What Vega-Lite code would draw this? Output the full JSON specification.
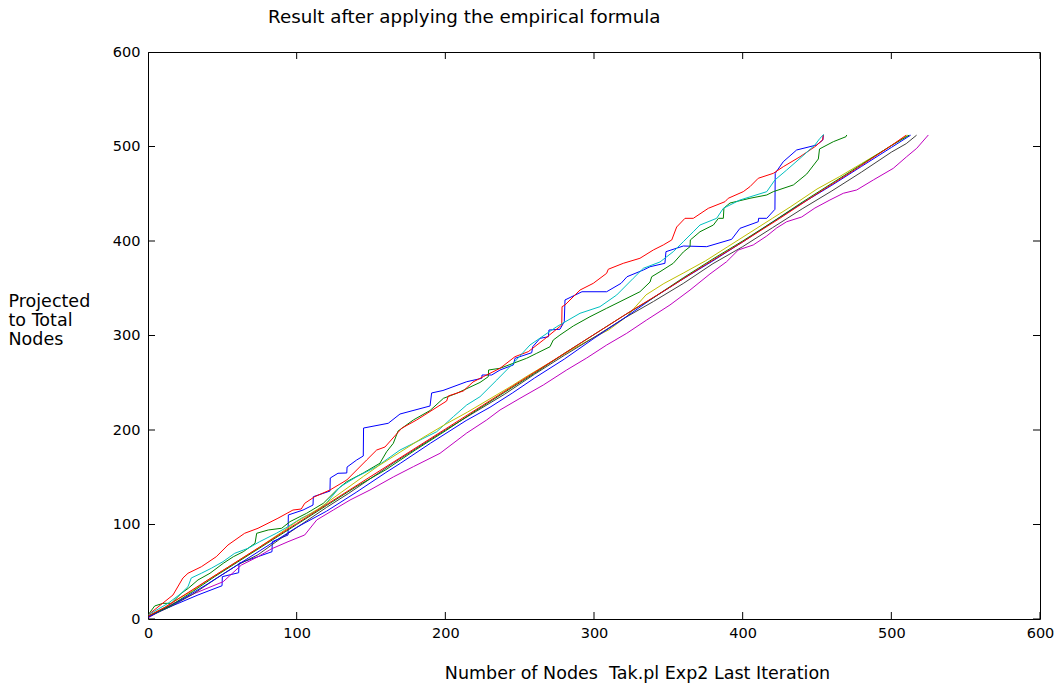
{
  "$schema": "https://vega.github.io/schema/vega-lite/v6.json",
  "width": 892,
  "height": 567,
  "autosize": {"type": "none"},
  "padding": {"left": 148, "top": 52, "right": 23, "bottom": 67},
  "background": "white",
  "title": {
    "text": "Result after applying the empirical formula",
    "anchor": "start",
    "frame": "group",
    "dx": 120,
    "offset": -1,
    "baseline": "bottom",
    "font": "DejaVu Sans",
    "fontSize": 18.3,
    "fontWeight": "normal",
    "color": "black"
  },
  "config": {
    "font": "DejaVu Sans",
    "view": {"stroke": "black", "strokeWidth": 1},
    "axis": {
      "grid": false,
      "domain": false,
      "ticks": false,
      "tickSize": 0,
      "labelFlush": false,
      "labelFont": "DejaVu Sans",
      "labelFontSize": 14.5,
      "labelColor": "black",
      "titleFont": "DejaVu Sans",
      "titleFontSize": 17.5,
      "titleFontWeight": "normal",
      "titleColor": "black"
    }
  },
  "datasets": {
    "tickpos": [{"v": 0}, {"v": 100}, {"v": 200}, {"v": 300}, {"v": 400}, {"v": 500}, {"v": 600}],
    "runs": [
      {"s": "s1", "x": 0, "y": 3}, {"s": "s1", "x": 33.6, "y": 25.4}, {"s": "s1", "x": 49.8, "y": 35.2}, {"s": "s1", "x": 50, "y": 44.8},
      {"s": "s1", "x": 61, "y": 49}, {"s": "s1", "x": 61.2, "y": 58.9}, {"s": "s1", "x": 83.4, "y": 71.2}, {"s": "s1", "x": 83.6, "y": 81.8},
      {"s": "s1", "x": 94.2, "y": 88.9}, {"s": "s1", "x": 94.4, "y": 110.1}, {"s": "s1", "x": 104.3, "y": 115.3}, {"s": "s1", "x": 111, "y": 120.6},
      {"s": "s1", "x": 111.2, "y": 129.4}, {"s": "s1", "x": 122.4, "y": 135.4}, {"s": "s1", "x": 122.6, "y": 149.2}, {"s": "s1", "x": 127.8, "y": 154.2},
      {"s": "s1", "x": 133.7, "y": 154.5}, {"s": "s1", "x": 133.9, "y": 160.8}, {"s": "s1", "x": 140.4, "y": 168.3}, {"s": "s1", "x": 144.8, "y": 172.5},
      {"s": "s1", "x": 145, "y": 202.1}, {"s": "s1", "x": 161.6, "y": 207.1}, {"s": "s1", "x": 169.5, "y": 216.9}, {"s": "s1", "x": 189.7, "y": 225.4},
      {"s": "s1", "x": 190.8, "y": 239.2}, {"s": "s1", "x": 198.4, "y": 241.8}, {"s": "s1", "x": 214.4, "y": 251.1}, {"s": "s1", "x": 224.5, "y": 254.7},
      {"s": "s1", "x": 224.7, "y": 258.2}, {"s": "s1", "x": 231.2, "y": 258.2}, {"s": "s1", "x": 236.8, "y": 263.5}, {"s": "s1", "x": 245.7, "y": 268.8},
      {"s": "s1", "x": 246.9, "y": 275.9}, {"s": "s1", "x": 258.1, "y": 281.8}, {"s": "s1", "x": 258.8, "y": 288.1}, {"s": "s1", "x": 263.7, "y": 297},
      {"s": "s1", "x": 269.3, "y": 298.7}, {"s": "s1", "x": 269.7, "y": 305.8}, {"s": "s1", "x": 277.1, "y": 306.6}, {"s": "s1", "x": 280, "y": 314.6},
      {"s": "s1", "x": 280.5, "y": 337.6}, {"s": "s1", "x": 291.9, "y": 346.3}, {"s": "s1", "x": 308.5, "y": 346.3}, {"s": "s1", "x": 318.2, "y": 355.2},
      {"s": "s1", "x": 322.2, "y": 362.2}, {"s": "s1", "x": 333.2, "y": 369.3}, {"s": "s1", "x": 337.7, "y": 372.8}, {"s": "s1", "x": 347.7, "y": 376.4},
      {"s": "s1", "x": 348.4, "y": 388.7}, {"s": "s1", "x": 360.1, "y": 394.7}, {"s": "s1", "x": 375.8, "y": 394}, {"s": "s1", "x": 392.6, "y": 401.8},
      {"s": "s1", "x": 398.2, "y": 413.4}, {"s": "s1", "x": 410.5, "y": 420.4}, {"s": "s1", "x": 410.7, "y": 424}, {"s": "s1", "x": 416.2, "y": 424},
      {"s": "s1", "x": 421.7, "y": 433.5}, {"s": "s1", "x": 421.9, "y": 471.6}, {"s": "s1", "x": 427.3, "y": 483.9}, {"s": "s1", "x": 436.3, "y": 496.3},
      {"s": "s1", "x": 449.8, "y": 501.6}, {"s": "s1", "x": 454, "y": 507}, {"s": "s1", "x": 454.2, "y": 512.2},

      {"s": "s2", "x": 0, "y": 4.2}, {"s": "s2", "x": 4.5, "y": 13.8}, {"s": "s2", "x": 10.1, "y": 16.6}, {"s": "s2", "x": 15.7, "y": 16.6},
      {"s": "s2", "x": 22.4, "y": 27.2}, {"s": "s2", "x": 27.1, "y": 32.5}, {"s": "s2", "x": 33.6, "y": 41.3}, {"s": "s2", "x": 41.7, "y": 48.4},
      {"s": "s2", "x": 50.6, "y": 58.9}, {"s": "s2", "x": 57.4, "y": 65.9}, {"s": "s2", "x": 64.1, "y": 71.2}, {"s": "s2", "x": 72, "y": 80.1},
      {"s": "s2", "x": 73.1, "y": 90.7}, {"s": "s2", "x": 80.9, "y": 94.2}, {"s": "s2", "x": 89.9, "y": 96}, {"s": "s2", "x": 95.5, "y": 103},
      {"s": "s2", "x": 106.7, "y": 111.9}, {"s": "s2", "x": 117.9, "y": 122.4}, {"s": "s2", "x": 126.9, "y": 136.5}, {"s": "s2", "x": 133.7, "y": 145.3},
      {"s": "s2", "x": 144.8, "y": 154.5}, {"s": "s2", "x": 156, "y": 164.8}, {"s": "s2", "x": 160.5, "y": 177}, {"s": "s2", "x": 165, "y": 185.9},
      {"s": "s2", "x": 168.2, "y": 198.9}, {"s": "s2", "x": 178.5, "y": 210.6}, {"s": "s2", "x": 189.7, "y": 220.6}, {"s": "s2", "x": 198.7, "y": 233.5},
      {"s": "s2", "x": 207.6, "y": 238.8}, {"s": "s2", "x": 223.3, "y": 250.3}, {"s": "s2", "x": 228.9, "y": 256.4}, {"s": "s2", "x": 229.1, "y": 263.5},
      {"s": "s2", "x": 236.8, "y": 265.3}, {"s": "s2", "x": 254.7, "y": 275.9}, {"s": "s2", "x": 261.5, "y": 281.2}, {"s": "s2", "x": 270.4, "y": 288.1},
      {"s": "s2", "x": 272.6, "y": 295.2}, {"s": "s2", "x": 277.1, "y": 300.5}, {"s": "s2", "x": 286.1, "y": 310.1}, {"s": "s2", "x": 297.3, "y": 319.9},
      {"s": "s2", "x": 308.5, "y": 328.8}, {"s": "s2", "x": 317.5, "y": 335.8}, {"s": "s2", "x": 330.9, "y": 346.3}, {"s": "s2", "x": 337.7, "y": 356.6},
      {"s": "s2", "x": 338.8, "y": 362.2}, {"s": "s2", "x": 344.4, "y": 367.5}, {"s": "s2", "x": 353.3, "y": 376.4}, {"s": "s2", "x": 360.1, "y": 388.4},
      {"s": "s2", "x": 364.6, "y": 394}, {"s": "s2", "x": 364.8, "y": 401.1}, {"s": "s2", "x": 371.3, "y": 409.8}, {"s": "s2", "x": 380.3, "y": 416.9},
      {"s": "s2", "x": 383.7, "y": 424}, {"s": "s2", "x": 387, "y": 424}, {"s": "s2", "x": 387.4, "y": 434.9}, {"s": "s2", "x": 391.5, "y": 440.2},
      {"s": "s2", "x": 404.9, "y": 445.2}, {"s": "s2", "x": 416.2, "y": 448.7}, {"s": "s2", "x": 420.6, "y": 452.2}, {"s": "s2", "x": 434.1, "y": 459.3},
      {"s": "s2", "x": 443.1, "y": 470.9}, {"s": "s2", "x": 450.9, "y": 486.8}, {"s": "s2", "x": 451.7, "y": 497.4}, {"s": "s2", "x": 461, "y": 505.1},
      {"s": "s2", "x": 469.5, "y": 510.4}, {"s": "s2", "x": 470, "y": 512.2},

      {"s": "s3", "x": 0, "y": 4.2}, {"s": "s3", "x": 16.8, "y": 25.4}, {"s": "s3", "x": 23.5, "y": 43.4}, {"s": "s3", "x": 26.9, "y": 48.4},
      {"s": "s3", "x": 35.9, "y": 55.3}, {"s": "s3", "x": 45.9, "y": 65.9}, {"s": "s3", "x": 53.8, "y": 78.3}, {"s": "s3", "x": 65, "y": 90.7},
      {"s": "s3", "x": 74, "y": 96}, {"s": "s3", "x": 87.4, "y": 106.6}, {"s": "s3", "x": 97.5, "y": 115.3}, {"s": "s3", "x": 103.1, "y": 116.4},
      {"s": "s3", "x": 105.4, "y": 122.4}, {"s": "s3", "x": 112.1, "y": 129.4}, {"s": "s3", "x": 122.4, "y": 136.5}, {"s": "s3", "x": 133.7, "y": 147.1},
      {"s": "s3", "x": 140.4, "y": 157.7}, {"s": "s3", "x": 147.1, "y": 168.3}, {"s": "s3", "x": 153.8, "y": 178.8}, {"s": "s3", "x": 159.4, "y": 182},
      {"s": "s3", "x": 170.6, "y": 201.8}, {"s": "s3", "x": 180.7, "y": 210.6}, {"s": "s3", "x": 200.9, "y": 230.7}, {"s": "s3", "x": 202, "y": 236},
      {"s": "s3", "x": 212.1, "y": 241.3}, {"s": "s3", "x": 218.6, "y": 250.8}, {"s": "s3", "x": 225.5, "y": 256.4}, {"s": "s3", "x": 236.8, "y": 265.3},
      {"s": "s3", "x": 246.9, "y": 277.6}, {"s": "s3", "x": 255.8, "y": 282.9}, {"s": "s3", "x": 265.9, "y": 295.2}, {"s": "s3", "x": 278.3, "y": 311.1},
      {"s": "s3", "x": 278.5, "y": 330.5}, {"s": "s3", "x": 280.5, "y": 332.3}, {"s": "s3", "x": 290.6, "y": 348.1}, {"s": "s3", "x": 299.5, "y": 355.2},
      {"s": "s3", "x": 308.5, "y": 365.8}, {"s": "s3", "x": 309.6, "y": 370.1}, {"s": "s3", "x": 319.7, "y": 376.4}, {"s": "s3", "x": 330.9, "y": 381.7},
      {"s": "s3", "x": 339.9, "y": 390.5}, {"s": "s3", "x": 346.6, "y": 395.8}, {"s": "s3", "x": 352.3, "y": 401.1}, {"s": "s3", "x": 355.6, "y": 414.8},
      {"s": "s3", "x": 361.2, "y": 424}, {"s": "s3", "x": 366.8, "y": 424}, {"s": "s3", "x": 376.9, "y": 434.6}, {"s": "s3", "x": 388.1, "y": 441.6},
      {"s": "s3", "x": 390.3, "y": 445.2}, {"s": "s3", "x": 400.4, "y": 452.2}, {"s": "s3", "x": 404.9, "y": 457.5}, {"s": "s3", "x": 410.5, "y": 466.4},
      {"s": "s3", "x": 420.6, "y": 471.6}, {"s": "s3", "x": 427.3, "y": 478.6}, {"s": "s3", "x": 438.6, "y": 489.2}, {"s": "s3", "x": 448.6, "y": 499.8},
      {"s": "s3", "x": 453.8, "y": 506.9}, {"s": "s3", "x": 454.2, "y": 512.2},

      {"s": "s4", "x": 0, "y": 4.2}, {"s": "s4", "x": 13.5, "y": 16.6}, {"s": "s4", "x": 22.4, "y": 27.2}, {"s": "s4", "x": 26.9, "y": 34.2},
      {"s": "s4", "x": 29.1, "y": 43.4}, {"s": "s4", "x": 35.9, "y": 48.4}, {"s": "s4", "x": 42.6, "y": 53.7}, {"s": "s4", "x": 50.4, "y": 60.6},
      {"s": "s4", "x": 58.3, "y": 69.5}, {"s": "s4", "x": 67.3, "y": 74.8}, {"s": "s4", "x": 75.1, "y": 81.8}, {"s": "s4", "x": 86.3, "y": 90.7},
      {"s": "s4", "x": 94.2, "y": 97.7}, {"s": "s4", "x": 103.1, "y": 106.6}, {"s": "s4", "x": 112.1, "y": 113.5}, {"s": "s4", "x": 118.9, "y": 120.6},
      {"s": "s4", "x": 129.1, "y": 139.7}, {"s": "s4", "x": 140.4, "y": 150.6}, {"s": "s4", "x": 153.8, "y": 161.2}, {"s": "s4", "x": 169.5, "y": 178.8},
      {"s": "s4", "x": 183, "y": 189.4}, {"s": "s4", "x": 194.2, "y": 198.2}, {"s": "s4", "x": 205.4, "y": 214.1}, {"s": "s4", "x": 214.4, "y": 226.5},
      {"s": "s4", "x": 223.3, "y": 235.2}, {"s": "s4", "x": 234.6, "y": 252.9}, {"s": "s4", "x": 245.7, "y": 270.6}, {"s": "s4", "x": 256.9, "y": 289.9},
      {"s": "s4", "x": 274.9, "y": 309.3}, {"s": "s4", "x": 290.6, "y": 323.5}, {"s": "s4", "x": 304, "y": 330.5}, {"s": "s4", "x": 315.3, "y": 342.9},
      {"s": "s4", "x": 326.4, "y": 360.5}, {"s": "s4", "x": 333.2, "y": 371.1}, {"s": "s4", "x": 344.4, "y": 377.8}, {"s": "s4", "x": 353.3, "y": 388.7},
      {"s": "s4", "x": 360.1, "y": 399.3}, {"s": "s4", "x": 366.8, "y": 409.8}, {"s": "s4", "x": 371.3, "y": 416.9}, {"s": "s4", "x": 382.5, "y": 424},
      {"s": "s4", "x": 387, "y": 434.6}, {"s": "s4", "x": 398.2, "y": 443.4}, {"s": "s4", "x": 416.2, "y": 452.2}, {"s": "s4", "x": 421.7, "y": 464.6},
      {"s": "s4", "x": 429.6, "y": 475.1}, {"s": "s4", "x": 438.6, "y": 487.5}, {"s": "s4", "x": 448.6, "y": 501.6}, {"s": "s4", "x": 452, "y": 508.7},
      {"s": "s4", "x": 454.7, "y": 512.9},

      {"s": "s5", "x": 0, "y": 1}, {"s": "s5", "x": 14.8, "y": 14.8}, {"s": "s5", "x": 31.6, "y": 27.2}, {"s": "s5", "x": 50.6, "y": 39.5},
      {"s": "s5", "x": 62.8, "y": 57.1}, {"s": "s5", "x": 74, "y": 65.9}, {"s": "s5", "x": 82.9, "y": 74.1}, {"s": "s5", "x": 94.2, "y": 81.8},
      {"s": "s5", "x": 105.4, "y": 88.9}, {"s": "s5", "x": 113.5, "y": 104.8}, {"s": "s5", "x": 124.6, "y": 115.3}, {"s": "s5", "x": 135.9, "y": 125.9},
      {"s": "s5", "x": 149.3, "y": 136.5}, {"s": "s5", "x": 165, "y": 150.3}, {"s": "s5", "x": 178.5, "y": 161.2}, {"s": "s5", "x": 196.4, "y": 175.3},
      {"s": "s5", "x": 214.4, "y": 196.8}, {"s": "s5", "x": 227.8, "y": 210.6}, {"s": "s5", "x": 236.8, "y": 221.2}, {"s": "s5", "x": 250.2, "y": 233.5},
      {"s": "s5", "x": 265.9, "y": 247.6}, {"s": "s5", "x": 281.6, "y": 263.5}, {"s": "s5", "x": 295.1, "y": 276.2}, {"s": "s5", "x": 308.5, "y": 289.9},
      {"s": "s5", "x": 322, "y": 302.3}, {"s": "s5", "x": 335.4, "y": 316.4}, {"s": "s5", "x": 351.1, "y": 332.3}, {"s": "s5", "x": 364.6, "y": 348.1},
      {"s": "s5", "x": 378, "y": 365.1}, {"s": "s5", "x": 389.2, "y": 378.1}, {"s": "s5", "x": 397.1, "y": 390.5}, {"s": "s5", "x": 407.1, "y": 395.8},
      {"s": "s5", "x": 416.2, "y": 405.3}, {"s": "s5", "x": 422.9, "y": 413.8}, {"s": "s5", "x": 429.6, "y": 420.4}, {"s": "s5", "x": 439.7, "y": 425.4},
      {"s": "s5", "x": 448.6, "y": 434.9}, {"s": "s5", "x": 458.7, "y": 443.4}, {"s": "s5", "x": 467.7, "y": 450.5}, {"s": "s5", "x": 476.7, "y": 454},
      {"s": "s5", "x": 487.9, "y": 464.6}, {"s": "s5", "x": 501.3, "y": 476.9}, {"s": "s5", "x": 510.3, "y": 489.2}, {"s": "s5", "x": 517.1, "y": 498.1},
      {"s": "s5", "x": 524.9, "y": 512.2},

      {"s": "s6", "x": 0, "y": 3}, {"s": "s6", "x": 10, "y": 11}, {"s": "s6", "x": 20, "y": 21}, {"s": "s6", "x": 30, "y": 30},
      {"s": "s6", "x": 40, "y": 41}, {"s": "s6", "x": 50, "y": 51}, {"s": "s6", "x": 60, "y": 61}, {"s": "s6", "x": 75, "y": 76},
      {"s": "s6", "x": 90, "y": 92}, {"s": "s6", "x": 100, "y": 103}, {"s": "s6", "x": 115, "y": 117}, {"s": "s6", "x": 130, "y": 134},
      {"s": "s6", "x": 145, "y": 151}, {"s": "s6", "x": 155, "y": 162}, {"s": "s6", "x": 170, "y": 177}, {"s": "s6", "x": 185, "y": 192},
      {"s": "s6", "x": 200, "y": 206}, {"s": "s6", "x": 215, "y": 219}, {"s": "s6", "x": 230, "y": 233}, {"s": "s6", "x": 245, "y": 247},
      {"s": "s6", "x": 255, "y": 257}, {"s": "s6", "x": 270, "y": 271}, {"s": "s6", "x": 285, "y": 285}, {"s": "s6", "x": 300, "y": 298},
      {"s": "s6", "x": 310, "y": 306}, {"s": "s6", "x": 322, "y": 320}, {"s": "s6", "x": 335, "y": 343}, {"s": "s6", "x": 347, "y": 355},
      {"s": "s6", "x": 360, "y": 366}, {"s": "s6", "x": 375, "y": 379}, {"s": "s6", "x": 390, "y": 394}, {"s": "s6", "x": 405, "y": 409},
      {"s": "s6", "x": 420, "y": 424}, {"s": "s6", "x": 432, "y": 436}, {"s": "s6", "x": 450, "y": 455}, {"s": "s6", "x": 465, "y": 468},
      {"s": "s6", "x": 480, "y": 482}, {"s": "s6", "x": 495, "y": 496}, {"s": "s6", "x": 511, "y": 512},

      {"s": "s7", "x": 0, "y": 2}, {"s": "s7", "x": 15, "y": 13}, {"s": "s7", "x": 30, "y": 26}, {"s": "s7", "x": 47, "y": 44},
      {"s": "s7", "x": 60, "y": 57}, {"s": "s7", "x": 74, "y": 68}, {"s": "s7", "x": 90, "y": 86}, {"s": "s7", "x": 105, "y": 102},
      {"s": "s7", "x": 120, "y": 118}, {"s": "s7", "x": 135, "y": 133}, {"s": "s7", "x": 150, "y": 149}, {"s": "s7", "x": 165, "y": 165},
      {"s": "s7", "x": 180, "y": 180}, {"s": "s7", "x": 200, "y": 200}, {"s": "s7", "x": 220, "y": 219}, {"s": "s7", "x": 240, "y": 238},
      {"s": "s7", "x": 260, "y": 259}, {"s": "s7", "x": 280, "y": 279}, {"s": "s7", "x": 300, "y": 298}, {"s": "s7", "x": 320, "y": 318},
      {"s": "s7", "x": 340, "y": 336}, {"s": "s7", "x": 360, "y": 355}, {"s": "s7", "x": 380, "y": 376}, {"s": "s7", "x": 400, "y": 394},
      {"s": "s7", "x": 420, "y": 414}, {"s": "s7", "x": 440, "y": 434}, {"s": "s7", "x": 460, "y": 453}, {"s": "s7", "x": 480, "y": 473},
      {"s": "s7", "x": 500, "y": 494}, {"s": "s7", "x": 510, "y": 503}, {"s": "s7", "x": 517, "y": 512},

      {"s": "s8", "x": 0, "y": 2}, {"s": "s8", "x": 20, "y": 18}, {"s": "s8", "x": 40, "y": 37}, {"s": "s8", "x": 60, "y": 57},
      {"s": "s8", "x": 80, "y": 77}, {"s": "s8", "x": 100, "y": 97}, {"s": "s8", "x": 120, "y": 114}, {"s": "s8", "x": 140, "y": 134},
      {"s": "s8", "x": 160, "y": 155}, {"s": "s8", "x": 170, "y": 165}, {"s": "s8", "x": 190, "y": 186}, {"s": "s8", "x": 214, "y": 210},
      {"s": "s8", "x": 230, "y": 224}, {"s": "s8", "x": 245, "y": 239}, {"s": "s8", "x": 260, "y": 255}, {"s": "s8", "x": 280, "y": 275},
      {"s": "s8", "x": 300, "y": 297}, {"s": "s8", "x": 320, "y": 318}, {"s": "s8", "x": 340, "y": 340}, {"s": "s8", "x": 360, "y": 360},
      {"s": "s8", "x": 380, "y": 379}, {"s": "s8", "x": 400, "y": 399}, {"s": "s8", "x": 420, "y": 420}, {"s": "s8", "x": 440, "y": 440},
      {"s": "s8", "x": 460, "y": 459}, {"s": "s8", "x": 480, "y": 479}, {"s": "s8", "x": 500, "y": 499}, {"s": "s8", "x": 513, "y": 512},

      {"s": "s9", "x": 0, "y": 3}, {"s": "s9", "x": 15, "y": 14}, {"s": "s9", "x": 30, "y": 29}, {"s": "s9", "x": 45, "y": 45},
      {"s": "s9", "x": 60, "y": 60}, {"s": "s9", "x": 80, "y": 80}, {"s": "s9", "x": 100, "y": 100}, {"s": "s9", "x": 120, "y": 120},
      {"s": "s9", "x": 140, "y": 140}, {"s": "s9", "x": 160, "y": 158}, {"s": "s9", "x": 180, "y": 179}, {"s": "s9", "x": 200, "y": 199},
      {"s": "s9", "x": 220, "y": 220}, {"s": "s9", "x": 240, "y": 240}, {"s": "s9", "x": 260, "y": 260}, {"s": "s9", "x": 280, "y": 281},
      {"s": "s9", "x": 300, "y": 301}, {"s": "s9", "x": 320, "y": 321}, {"s": "s9", "x": 340, "y": 340}, {"s": "s9", "x": 360, "y": 361},
      {"s": "s9", "x": 380, "y": 381}, {"s": "s9", "x": 400, "y": 400}, {"s": "s9", "x": 420, "y": 420}, {"s": "s9", "x": 440, "y": 441},
      {"s": "s9", "x": 460, "y": 461}, {"s": "s9", "x": 480, "y": 481}, {"s": "s9", "x": 500, "y": 501}, {"s": "s9", "x": 512, "y": 512},

      {"s": "s10", "x": 0, "y": 3}, {"s": "s10", "x": 12, "y": 13}, {"s": "s10", "x": 25, "y": 26}, {"s": "s10", "x": 50, "y": 51},
      {"s": "s10", "x": 75, "y": 76}, {"s": "s10", "x": 100, "y": 101}, {"s": "s10", "x": 125, "y": 126}, {"s": "s10", "x": 150, "y": 151},
      {"s": "s10", "x": 175, "y": 176}, {"s": "s10", "x": 200, "y": 201}, {"s": "s10", "x": 225, "y": 226}, {"s": "s10", "x": 250, "y": 251},
      {"s": "s10", "x": 275, "y": 276}, {"s": "s10", "x": 300, "y": 301}, {"s": "s10", "x": 325, "y": 326}, {"s": "s10", "x": 350, "y": 350},
      {"s": "s10", "x": 375, "y": 375}, {"s": "s10", "x": 400, "y": 399}, {"s": "s10", "x": 425, "y": 424}, {"s": "s10", "x": 450, "y": 450},
      {"s": "s10", "x": 475, "y": 475}, {"s": "s10", "x": 500, "y": 501}, {"s": "s10", "x": 510, "y": 512}
    ]
  },
  "layer": [
    {
      "data": {"name": "runs"},
      "mark": {"type": "line", "strokeWidth": 1, "clip": true},
      "encoding": {
        "x": {
          "field": "x", "type": "quantitative",
          "scale": {"domain": [0, 600], "nice": false, "zero": false},
          "axis": {
            "orient": "bottom",
            "values": [0, 100, 200, 300, 400, 500, 600],
            "labelPadding": 7,
            "title": "Number of Nodes\u00a0 Tak.pl Exp2 Last Iteration",
            "titleX": 489,
            "titleY": 59,
            "titleAlign": "center",
            "titleBaseline": "alphabetic"
          }
        },
        "y": {
          "field": "y", "type": "quantitative",
          "scale": {"domain": [0, 600], "nice": false, "zero": false},
          "axis": {
            "orient": "left",
            "values": [0, 100, 200, 300, 400, 500, 600],
            "labelPadding": 8,
            "title": ["Projected", "to Total", "Nodes"],
            "titleAngle": 0,
            "titleAlign": "left",
            "titleBaseline": "top",
            "titleX": -140,
            "titleY": 240,
            "titleLineHeight": 19
          }
        },
        "color": {
          "field": "s", "type": "nominal",
          "scale": {
            "domain": ["s1", "s2", "s3", "s4", "s5", "s6", "s7", "s8", "s9", "s10"],
            "range": ["#0000ff", "#008000", "#ff0000", "#00bfbf", "#bf00bf", "#bfbf00", "#404040", "#0000ff", "#008000", "#ff0000"]
          },
          "legend": null
        }
      }
    },
    {
      "data": {"name": "tickpos"},
      "mark": {"type": "tick", "orient": "vertical", "size": 14, "thickness": 1, "color": "black", "opacity": 1, "clip": true},
      "encoding": {
        "x": {"field": "v", "type": "quantitative"},
        "y": {"datum": 0, "type": "quantitative"}
      }
    },
    {
      "data": {"name": "tickpos"},
      "mark": {"type": "tick", "orient": "vertical", "size": 14, "thickness": 1, "color": "black", "opacity": 1, "clip": true},
      "encoding": {
        "x": {"field": "v", "type": "quantitative"},
        "y": {"datum": 600, "type": "quantitative"}
      }
    },
    {
      "data": {"name": "tickpos"},
      "mark": {"type": "tick", "orient": "horizontal", "size": 14, "thickness": 1, "color": "black", "opacity": 1, "clip": true},
      "encoding": {
        "y": {"field": "v", "type": "quantitative"},
        "x": {"datum": 0, "type": "quantitative"}
      }
    },
    {
      "data": {"name": "tickpos"},
      "mark": {"type": "tick", "orient": "horizontal", "size": 14, "thickness": 1, "color": "black", "opacity": 1, "clip": true},
      "encoding": {
        "y": {"field": "v", "type": "quantitative"},
        "x": {"datum": 600, "type": "quantitative"}
      }
    }
  ]
}
